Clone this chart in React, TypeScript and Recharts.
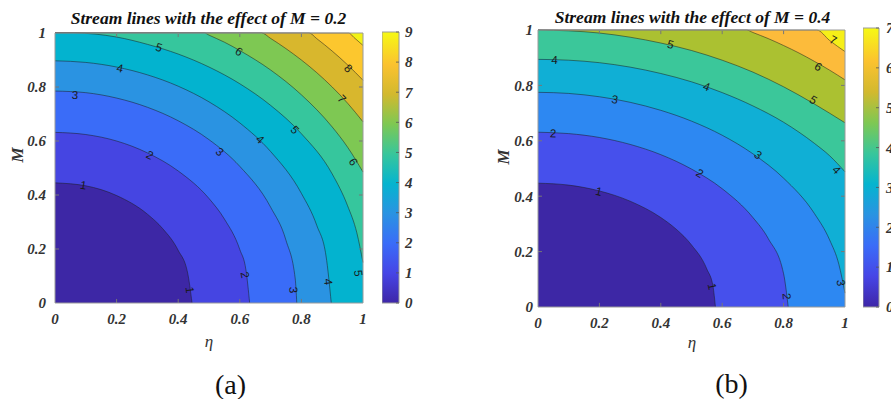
import React from 'react';
import { ComposedChart, Area, Scatter, XAxis, YAxis, ReferenceLine, BarChart, Bar } from 'recharts';

// panel (a): contour lines, [eta, M]
const A1 = [[0, 0.445], [0.1, 0.434], [0.2, 0.398], [0.3, 0.329], [0.35, 0.275], [0.4, 0.195], [0.43, 0.115], [0.445, 0]];
const A2 = [[0, 0.632], [0.1, 0.624], [0.2, 0.6], [0.3, 0.556], [0.4, 0.489], [0.5, 0.387], [0.55, 0.311], [0.6, 0.198], [0.62, 0.122], [0.632, 0]];
const A3 = [[0, 0.785], [0.1, 0.779], [0.2, 0.759], [0.3, 0.725], [0.4, 0.675], [0.5, 0.605], [0.6, 0.506], [0.7, 0.355], [0.75, 0.232], [0.78, 0.089], [0.785, 0]];
const A4 = [[0, 0.897], [0.1, 0.891], [0.2, 0.874], [0.3, 0.845], [0.4, 0.803], [0.5, 0.745], [0.6, 0.667], [0.7, 0.561], [0.8, 0.406], [0.85, 0.287], [0.88, 0.174], [0.897, 0]];
const A5 = [[0, 1], [0.06, 1], [0.2, 0.985], [0.3, 0.958], [0.4, 0.922], [0.5, 0.874], [0.6, 0.812], [0.7, 0.732], [0.8, 0.627], [0.9, 0.478], [0.95, 0.36], [0.98, 0.26], [1, 0.15]];
const A6 = [[0, 1], [0.485, 1], [0.5, 0.992], [0.55, 0.966], [0.6, 0.935], [0.7, 0.863], [0.8, 0.771], [0.9, 0.652], [0.95, 0.577], [1, 0.485]];
const A7 = [[0, 1], [0.671, 1], [0.7, 0.98], [0.75, 0.942], [0.8, 0.9], [0.85, 0.853], [0.9, 0.8], [0.95, 0.74], [1, 0.671]];
const A8 = [[0, 1], [0.825, 1], [0.85, 0.979], [0.9, 0.933], [0.95, 0.882], [1, 0.825]];
const A9 = [[0, 1], [0.954, 1], [0.97, 0.984], [1, 0.954]];

// panel (b)
const B1 = [[0, 0.447], [0.1, 0.44], [0.2, 0.419], [0.3, 0.382], [0.4, 0.323], [0.45, 0.281], [0.5, 0.224], [0.55, 0.137], [0.57, 0.075], [0.578, 0]];
const B2 = [[0, 0.631], [0.1, 0.626], [0.2, 0.612], [0.3, 0.587], [0.4, 0.55], [0.5, 0.498], [0.6, 0.427], [0.7, 0.323], [0.75, 0.247], [0.8, 0.12], [0.815, 0]];
const B3 = [[0, 0.775], [0.1, 0.771], [0.2, 0.759], [0.3, 0.739], [0.4, 0.71], [0.5, 0.671], [0.6, 0.62], [0.7, 0.553], [0.8, 0.465], [0.9, 0.338], [0.95, 0.242], [0.98, 0.154], [1, 0.05]];
const B4 = [[0, 0.894], [0.1, 0.891], [0.2, 0.882], [0.3, 0.866], [0.4, 0.843], [0.5, 0.813], [0.6, 0.774], [0.7, 0.726], [0.8, 0.667], [0.9, 0.591], [0.95, 0.546], [1, 0.488]];
const B5 = [[0, 1], [0.1, 0.997], [0.2, 0.989], [0.3, 0.974], [0.4, 0.953], [0.5, 0.926], [0.6, 0.891], [0.7, 0.848], [0.8, 0.795], [0.9, 0.733], [1, 0.665]];
const B6 = [[0, 1], [0.679, 1], [0.7, 0.991], [0.75, 0.969], [0.8, 0.944], [0.85, 0.917], [0.9, 0.887], [0.95, 0.855], [1, 0.82]];
const B7 = [[0, 1], [0.908, 1], [0.95, 0.962], [1, 0.922]];

// fill colour of each band (level k .. k+1)
const bandsA = ['#3d27a5', '#4545e2', '#3a6cf8', '#2a93e2', '#03b3cf', '#36c69d', '#7ec853', '#d8b72d', '#fcc72e', '#f2f214'];
const bandsB = ['#3d27a5', '#4650ec', '#2d88f2', '#10afd5', '#3bc79a', '#abc131', '#fcbb3b', '#f6ef18'];

// clabel texts: value, eta, M, rotation
const labelsA = [
  ['1', 0.092, 0.437, 10], ['1', 0.438, 0.048, 83],
  ['2', 0.308, 0.548, 26], ['2', 0.617, 0.104, 79],
  ['3', 0.065, 0.77, 4], ['3', 0.535, 0.56, 40], ['3', 0.774, 0.048, 86],
  ['4', 0.211, 0.869, 12], ['4', 0.666, 0.606, 44], ['4', 0.887, 0.079, 84],
  ['5', 0.338, 0.947, 17], ['5', 0.779, 0.641, 47], ['5', 0.985, 0.11, 83],
  ['6', 0.597, 0.931, 29], ['6', 0.969, 0.523, 58],
  ['7', 0.931, 0.756, 47], ['8', 0.952, 0.869, 44],
];
const labelsB = [
  ['1', 0.198, 0.417, 14], ['1', 0.567, 0.074, 76],
  ['2', 0.049, 0.627, 2], ['2', 0.527, 0.483, 31], ['2', 0.81, 0.038, 85],
  ['3', 0.25, 0.75, 10], ['3', 0.717, 0.549, 35], ['3', 0.987, 0.087, 81],
  ['4', 0.054, 0.892, 2], ['4', 0.549, 0.796, 20], ['4', 0.973, 0.495, 47],
  ['5', 0.432, 0.948, 14], ['5', 0.897, 0.748, 33],
  ['6', 0.913, 0.868, 30], ['7', 0.962, 0.964, 28],
];

const axisTicks = [0, 0.2, 0.4, 0.6, 0.8, 1];
const cbTicksA = [0, 1, 2, 3, 4, 5, 6, 7, 8, 9];
const cbTicksB = [0, 1, 2, 3, 4, 5, 6, 7];

const serif = "'Liberation Serif', 'Times New Roman', serif";
const tickFont = { fontFamily: serif, fontWeight: 'bold', fontStyle: 'italic', fontSize: 15, fill: '#333' };
const toPts = (arr: number[][]) => arr.map(([x, y]) => ({ x, y }));

const ClabelShape = (p: any) => {
  const { cx, cy, payload } = p;
  return (
    <text x={cx} y={cy} textAnchor="middle" dominantBaseline="central" fontSize={11.5}
      fontFamily="'Liberation Sans', Arial, sans-serif" fill="#1a1a1a"
      transform={`rotate(${payload.rot} ${cx} ${cy})`}>{payload.t}</text>
  );
};

function ContourPanel({ curves, bands, labels, left, width, height, margin, yTickMargin }: any) {
  const pts = labels.map(([t, x, y, rot]: any) => ({ t, x, y, rot }));
  const frame = '#9a9a9a';
  return (
    <div style={{ position: 'absolute', left, top: 0 }}>
      <ComposedChart width={width} height={height} margin={margin}>
        <XAxis type="number" dataKey="x" domain={[0, 1]} ticks={axisTicks} tickSize={0} tickMargin={10}
          tick={tickFont} stroke={frame} height={30} />
        <YAxis type="number" dataKey="y" domain={[0, 1]} ticks={axisTicks} tickSize={0} tickMargin={yTickMargin}
          tick={tickFont} stroke={frame} width={40} />
        <Area data={[{ x: 0, y: 1 }, { x: 1, y: 1 }]} dataKey="y" type="linear" fill={bands[bands.length - 1]}
          fillOpacity={1} stroke="none" isAnimationActive={false} />
        {curves.map((c: number[][], i: number) => ({ c, i })).reverse().map(({ c, i }: any) => (
          <Area key={i} data={toPts(c)} dataKey="y" type="monotone" fill={bands[i]} fillOpacity={1}
            stroke="#1c1c1c" strokeWidth={0.6} strokeOpacity={0.85} isAnimationActive={false} />
        ))}
        {axisTicks.slice(1, 5).map((t) => (
          <ReferenceLine key={'b' + t} segment={[{ x: t, y: 0 }, { x: t, y: 0.015 }]} stroke="#777" />
        ))}
        {axisTicks.slice(1, 5).map((t) => (
          <ReferenceLine key={'t' + t} segment={[{ x: t, y: 1 }, { x: t, y: 0.985 }]} stroke="#777" />
        ))}
        {axisTicks.slice(1, 5).map((t) => (
          <ReferenceLine key={'l' + t} segment={[{ x: 0, y: t }, { x: 0.013, y: t }]} stroke="#777" />
        ))}
        {axisTicks.slice(1, 5).map((t) => (
          <ReferenceLine key={'r' + t} segment={[{ x: 1, y: t }, { x: 0.987, y: t }]} stroke="#777" />
        ))}
        <ReferenceLine y={1} stroke={frame} />
        <ReferenceLine x={1} stroke={frame} />
        <Scatter data={pts} dataKey="y" shape={ClabelShape} isAnimationActive={false} />
      </ComposedChart>
    </div>
  );
}

function Colorbar({ id, ticks, left, top, bottom, barWidth, tickMargin }: any) {
  const H = 330;
  const CbTick = (p: any) => (
    <g>
      <line x1={p.x - tickMargin - 3} x2={p.x - tickMargin} y1={p.y} y2={p.y} stroke="#555" strokeWidth={0.8} />
      <text x={p.x} y={p.y} dy="0.355em" textAnchor="start" {...tickFont}>{p.payload.value}</text>
    </g>
  );
  return (
    <div style={{ position: 'absolute', left, top: 0 }}>
      <BarChart width={barWidth + 40} height={H} data={[{ n: 'c', v: ticks[ticks.length - 1] }]}
        margin={{ top, right: 0, left: 0, bottom: H - bottom }} barCategoryGap={0}>
        <defs>
          <linearGradient id={id} x1="0" y1="1" x2="0" y2="0">
            <stop offset="0" stopColor="#3e26a8" />
            <stop offset="0.11" stopColor="#4645e6" />
            <stop offset="0.22" stopColor="#3a6cf8" />
            <stop offset="0.33" stopColor="#2a93e2" />
            <stop offset="0.44" stopColor="#05b4cf" />
            <stop offset="0.55" stopColor="#38c69b" />
            <stop offset="0.66" stopColor="#7ec853" />
            <stop offset="0.77" stopColor="#d2b92e" />
            <stop offset="0.88" stopColor="#fbc22f" />
            <stop offset="1" stopColor="#f6f914" />
          </linearGradient>
        </defs>
        <XAxis dataKey="n" hide />
        <YAxis orientation="right" domain={[0, ticks[ticks.length - 1]]} ticks={ticks} width={40}
          axisLine={false} tickLine={false} tickSize={0} tickMargin={tickMargin} tick={CbTick} />
        <Bar dataKey="v" fill={`url(#${id})`} stroke="#9a9a9a" strokeWidth={1} isAnimationActive={false} />
      </BarChart>
    </div>
  );
}

const centered = (x: number, y: number, extra: any = {}) => ({
  position: 'absolute' as const, left: x, top: y, transform: 'translate(-50%, -50%)' + (extra.rot ? ' rotate(-90deg)' : ''),
  whiteSpace: 'nowrap' as const, lineHeight: 1, ...extra.style,
});
const titleStyle = { fontFamily: serif, fontWeight: 'bold', fontStyle: 'italic', fontSize: 17.5, color: '#111' };
const axisLabelStyle = { fontFamily: serif, fontStyle: 'italic', fontSize: 17, color: '#333' };

export default function App() {
  return (
    <div style={{ position: 'absolute', left: 0, top: 0, width: 891, height: 399, overflow: 'hidden', background: '#fff' }}>
      <ContourPanel curves={[A1, A2, A3, A4, A5, A6, A7, A8, A9]} bands={bandsA} labels={labelsA}
        left={0} width={380} height={360} margin={{ top: 33, right: 17, left: 15, bottom: 27 }} yTickMargin={9} />
      <Colorbar id="parulaA" ticks={cbTicksA} left={382} top={32} bottom={303} barWidth={17} tickMargin={6} />
      <ContourPanel curves={[B1, B2, B3, B4, B5, B6, B7]} bands={bandsB} labels={labelsB}
        left={483} width={380} height={365} margin={{ top: 30, right: 18, left: 15, bottom: 28 }} yTickMargin={5} />
      <Colorbar id="parulaB" ticks={cbTicksB} left={863} top={28} bottom={307} barWidth={16} tickMargin={7} />

      <div style={centered(208.5, 19, { style: titleStyle })}>Stream lines with the effect of M = 0.2</div>
      <div style={centered(692.5, 18, { style: titleStyle })}>Stream lines with the effect of M = 0.4</div>
      <div style={centered(209, 341, { style: axisLabelStyle })}>η</div>
      <div style={centered(692, 342, { style: axisLabelStyle })}>η</div>
      <div style={centered(17, 155, { rot: true, style: { ...axisLabelStyle, fontWeight: 'bold' } })}>M</div>
      <div style={centered(503, 157, { rot: true, style: { ...axisLabelStyle, fontWeight: 'bold' } })}>M</div>
      <div style={centered(230.5, 385, { style: { fontFamily: serif, fontSize: 28, color: '#111' } })}>(a)</div>
      <div style={centered(731.5, 384, { style: { fontFamily: serif, fontSize: 28, color: '#111' } })}>(b)</div>
    </div>
  );
}
